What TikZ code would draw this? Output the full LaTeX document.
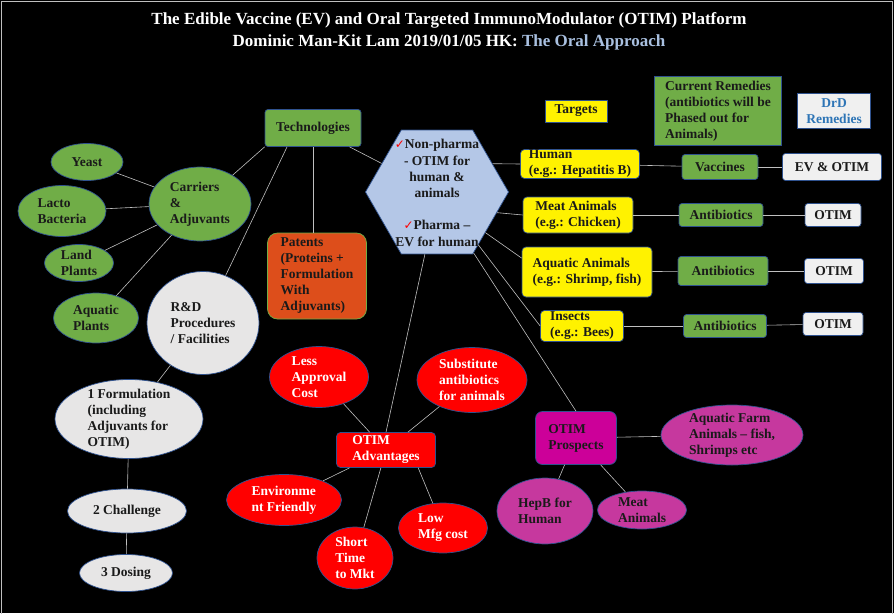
\documentclass[tikz,border=0pt]{standalone}
\usepackage{fontspec}
\setmainfont{Liberation Serif}
\newfontfamily\tickfont{DejaVu Sans}
\usepackage{tikz}
\usetikzlibrary{shapes.geometric}

\definecolor{leafgreen}{HTML}{70AD47}
\definecolor{nodeline}{HTML}{2F528F}
\definecolor{linegrey}{HTML}{BFBFBF}
\definecolor{paleblue}{HTML}{B4C7E7}
\definecolor{palegrey}{HTML}{E7E6E6}
\definecolor{boxwhite}{HTML}{F0F0F0}
\definecolor{patentred}{HTML}{DD4E1B}
\definecolor{prospect}{HTML}{CC0099}
\definecolor{pinkoval}{HTML}{C6389E}
\definecolor{skyblue}{HTML}{A9C0E0}
\definecolor{drdblue}{HTML}{2E75B6}
\definecolor{textdark}{HTML}{1A1A1A}
\newcommand{\redtick}{\textcolor{red}{{\tickfont\fontsize{12}{12}\selectfont ✓}}}

\begin{document}
\begin{tikzpicture}[x=1pt,y=-1pt,font=\bfseries\fontsize{13.5}{16}\selectfont,text=textdark,
  every edge/.style={draw=linegrey,line width=0.6pt},
  wh/.style 2 args={minimum width=#1pt,minimum height=#2pt},
  box node/.style={rectangle,draw=nodeline,line width=0.7pt,inner sep=0pt,align=left},
  green node/.style={box node,fill=leafgreen,rounded corners=3pt},
  yellow node/.style={box node,fill=yellow,rounded corners=4pt},
  white node/.style={box node,fill=boxwhite,rounded corners=3pt},
  red node/.style={box node,fill=red,text=white,rounded corners=4pt},
  pink node/.style={box node,fill=prospect,rounded corners=7pt},
  patent node/.style={box node,fill=patentred,draw=leafgreen,rounded corners=10pt},
  oval node/.style={ellipse,draw=nodeline,line width=0.7pt,inner sep=-3pt,align=left},
  green oval/.style={oval node,fill=leafgreen},
  grey oval/.style={oval node,fill=palegrey},
  red oval/.style={oval node,fill=red,text=white},
  pink oval/.style={oval node,fill=pinkoval},
  hex node/.style={regular polygon,regular polygon sides=6,minimum size=143pt,
    fill=paleblue,draw=nodeline,line width=0.7pt,inner sep=0pt}]
  \useasboundingbox (0,0) rectangle (894,613);
  \fill[black] (0,0) rectangle (894,613);
  \draw[linegrey,line width=1.5pt] (1.5,620) -- (1.5,1.5) -- (892.5,1.5) -- (892.5,620);

  \node[text=white,align=center,font=\bfseries\fontsize{17}{22}\selectfont] (title) at (449,31)
    {The Edible Vaccine (EV) and Oral Targeted ImmunoModulator (OTIM) Platform\\
     Dominic Man-Kit Lam 2019/01/05 HK: \textcolor{skyblue}{The Oral Approach}};

  \node[green node,wh={96}{37}] (tech) at (313,128) {Technologies};
  \node[green oval,wh={102}{74}] (carr) at (200,204) {Carriers\\\&\\Adjuvants};
  \node[green oval,wh={72}{37}] (yeast) at (87,162) {Yeast};
  \node[green oval,wh={88}{51}] (lacto) at (62,211) {Lacto\\Bacteria};
  \node[green oval,wh={69}{37}] (land) at (79,263) {Land\\Plants};
  \node[green oval,wh={85}{50}] (aqplant) at (96,318) {Aquatic\\Plants};
  \node[grey oval,wh={112}{103}] (rd) at (203,323) {R\&D\\Procedures\\/ Facilities};
  \node[patent node,wh={99}{86}] (pat) at (317,276)
    {Patents\\(Proteins +\\Formulation\\With\\Adjuvants)};

  \node[hex node] (hex) at (437,192) {};
  \node[align=center,font=\bfseries\fontsize{13.5}{16.2}\selectfont] (hexlabel) at (437,193)
    {\redtick Non-pharma\\- OTIM for\\human \&\\animals\\[16.2pt]\redtick Pharma --\\EV for human};

  \node[yellow node,rounded corners=0pt,wh={62}{22}] (target) at (576,111) {Targets};
  \node[green node,rounded corners=0pt,wh={127}{69}] (remedy) at (718,111)
    {Current Remedies\\(antibiotics will be\\Phased out for\\Animals)};
  \node[white node,rounded corners=0pt,align=center,text=drdblue,wh={73}{35}] (drd) at (834,111)
    {DrD\\Remedies};

  \node[yellow node,wh={119}{29}] (human) at (580,164) {Human\\(e.g.: Hepatitis B)};
  \node[green node,wh={76}{25}] (vacc) at (720,167) {Vaccines};
  \node[white node,wh={99}{27}] (evotim) at (832,167) {EV \& OTIM};
  \node[yellow node,wh={110}{36}] (meat) at (578,215) {Meat Animals\\(e.g.: Chicken)};
  \node[green node,wh={84}{23}] (anti1) at (721,215) {Antibiotics};
  \node[white node,wh={56}{23}] (otim1) at (833,215) {OTIM};
  \node[yellow node,wh={130}{50}] (aqua) at (587,272) {Aquatic Animals\\(e.g.: Shrimp, fish)};
  \node[green node,wh={90}{29}] (anti2) at (723,271) {Antibiotics};
  \node[white node,wh={59}{25}] (otim2) at (834,271) {OTIM};
  \node[yellow node,wh={83}{31}] (insect) at (582,326) {Insects\\(e.g.: Bees)};
  \node[green node,wh={83}{23}] (anti3) at (725,326) {Antibiotics};
  \node[white node,wh={60}{23}] (otim3) at (833,324) {OTIM};

  \node[grey oval,wh={148}{79}] (form) at (129,419) {1 Formulation\\(including\\Adjuvants for\\OTIM)};
  \node[grey oval,wh={119}{44}] (chal) at (127,511) {2 Challenge};
  \node[grey oval,wh={93}{37}] (dose) at (126,573) {3 Dosing};

  \node[red node,wh={99}{35}] (adv) at (386,450) {OTIM\\Advantages};
  \node[red oval,wh={99}{61}] (less) at (319,377) {Less\\Approval\\Cost};
  \node[red oval,wh={110}{65}] (subs) at (472,380) {Substitute\\antibiotics\\for animals};
  \node[red oval,wh={115}{51}] (env) at (284,500) {Environme\\nt Friendly};
  \node[red oval,wh={76}{62}] (short) at (355,558) {Short\\Time\\to Mkt};
  \node[red oval,wh={89}{50}] (low) at (443,528) {Low\\Mfg cost};

  \node[pink node,wh={81}{53}] (pros) at (576,438) {OTIM\\Prospects};
  \node[pink oval,wh={142}{60}] (farm) at (732,435) {Aquatic Farm\\Animals -- fish,\\Shrimps etc};
  \node[pink oval,wh={96}{66}] (hepb) at (545,511) {HepB for\\Human};
  \node[pink oval,wh={89}{38}] (meatan) at (642,510) {Meat\\Animals};

  \path
    (yeast) edge (carr)
    (lacto) edge (carr)
    (land) edge (carr)
    (aqplant) edge (carr)
    (tech.south west) edge (carr)
    (tech.216) edge (rd)
    (tech.south) edge (tech.south |- pat.north)
    (tech) edge (hex)
    (hex.27) edge (human.west)
    (hex.-19) edge (meat.west)
    (hex.-40) edge (aqua.168)
    (hex.-52) edge (insect.west)
    (hex.-59) edge (pros.north)
    (hex.-101) edge (adv.north)
    (human) edge (vacc)
    (vacc) edge (evotim)
    (meat) edge (anti1)
    (anti1) edge (otim1)
    (aqua) edge (anti2)
    (anti2) edge (otim2)
    (insect) edge (anti3)
    (anti3) edge (otim3)
    (rd) edge (form)
    (form) edge (chal)
    (chal) edge (dose)
    (adv) edge (less)
    (adv) edge (subs)
    (adv) edge (env)
    (adv) edge (short)
    (adv.-29) edge (low)
    (pros) edge (farm)
    (pros) edge (hepb)
    (pros) edge (meatan);
\end{tikzpicture}
\end{document}
